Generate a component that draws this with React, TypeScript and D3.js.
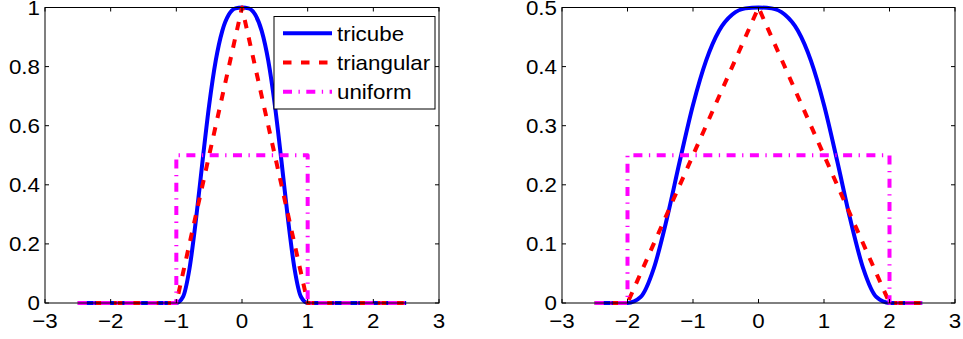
import React from "react";
import * as d3 from "d3";

// ---- data ----
const xTicks = [-3, -2, -1, 0, 1, 2, 3];
const leftYTicks = [0, 0.2, 0.4, 0.6, 0.8, 1];
const rightYTicks = [0, 0.1, 0.2, 0.3, 0.4, 0.5];
const seriesNames = ["tricube", "triangular", "uniform"];

// left panel (bandwidth 1)
const leftTricubeX = [-2.5, -1, -0.9, -0.8, -0.7, -0.6, -0.5, -0.4, -0.3, -0.2, -0.1, 0, 0.1, 0.2, 0.3, 0.4, 0.5, 0.6, 0.7, 0.8, 0.9, 1, 2.5];
const leftTricubeY = [0, 0, 0.02, 0.116, 0.284, 0.482, 0.67, 0.82, 0.921, 0.976, 0.997, 1, 0.997, 0.976, 0.921, 0.82, 0.67, 0.482, 0.284, 0.116, 0.02, 0, 0];
const leftTriX = [-2.5, -1, 0, 1, 2.5];
const leftTriY = [0, 0, 1, 0, 0];
const leftUniX = [-2.5, -1, -1, 1, 1, 2.5];
const leftUniY = [0, 0, 0.5, 0.5, 0, 0];

// right panel (bandwidth 2)
const rightTricubeX = [-2.5, -2, -1.8, -1.6, -1.4, -1.2, -1, -0.8, -0.6, -0.4, -0.2, 0, 0.2, 0.4, 0.6, 0.8, 1, 1.2, 1.4, 1.6, 1.8, 2, 2.5];
const rightTricubeY = [0, 0, 0.01, 0.058, 0.142, 0.241, 0.335, 0.41, 0.461, 0.488, 0.4985, 0.5, 0.4985, 0.488, 0.461, 0.41, 0.335, 0.241, 0.142, 0.058, 0.01, 0, 0];
const rightTriX = [-2.5, -2, 0, 2, 2.5];
const rightTriY = [0, 0, 0.5, 0, 0];
const rightUniX = [-2.5, -2, -2, 2, 2, 2.5];
const rightUniY = [0, 0, 0.25, 0.25, 0, 0];

const FONT = "'Liberation Sans', Arial, sans-serif";
const FS = 20.5;
const SX = 1.09;
const styles = [
  { stroke: "#0000ff", dash: undefined as string | undefined },
  { stroke: "#ff0000", dash: "8.5 9.5" },
  { stroke: "#ff00ff", dash: "9 6.5 1.3 6.5" },
];

type Series = { x: number[]; y: number[]; smooth: boolean };

function T(props: { x: number; y: number; anchor?: string; dy?: string; children: React.ReactNode }) {
  return (
    <text transform={`translate(${props.x},${props.y}) scale(${SX},1)`} dy={props.dy}
      textAnchor={props.anchor || "start"} fontFamily={FONT} fontSize={FS} fill="#000">
      {props.children}
    </text>
  );
}

function Panel(props: {
  x0: number; x1: number; y0: number; y1: number;
  yMax: number; yTicks: number[]; series: Series[]; legend?: boolean; yFmt: (v: number) => string;
}) {
  const { x0, x1, y0, y1, yMax, yTicks, series, legend, yFmt } = props;
  const xs = d3.scaleLinear().domain([-3, 3]).range([x0, x1]);
  const ys = d3.scaleLinear().domain([0, yMax]).range([y1, y0]);
  const tl = 4;
  const fmtX = (v: number) => (v < 0 ? "\u2212" + Math.abs(v) : String(v));
  return (
    <g>
      {series.map((s, i) => {
        const pts = s.x.map((xv, k) => [xv, s.y[k]] as [number, number]);
        const line = d3.line<[number, number]>()
          .x((d) => xs(d[0]))
          .y((d) => ys(d[1]))
          .curve(s.smooth ? d3.curveMonotoneX : d3.curveLinear);
        return (
          <path key={i} d={line(pts) || ""} fill="none" stroke={styles[i].stroke}
            strokeWidth={4} strokeDasharray={styles[i].dash} strokeLinejoin="round" />
        );
      })}
      <rect x={x0} y={y0} width={x1 - x0} height={y1 - y0} fill="none" stroke="#000" strokeWidth={1} />
      {xTicks.map((t) => (
        <g key={"x" + t}>
          <line x1={xs(t)} x2={xs(t)} y1={y1} y2={y1 - tl} stroke="#000" />
          <line x1={xs(t)} x2={xs(t)} y1={y0} y2={y0 + tl} stroke="#000" />
          <T x={xs(t)} y={y1 + 25} anchor="middle">{fmtX(t)}</T>
        </g>
      ))}
      {yTicks.map((t) => (
        <g key={"y" + t}>
          <line x1={x0} x2={x0 + tl} y1={ys(t)} y2={ys(t)} stroke="#000" />
          <line x1={x1} x2={x1 - tl} y1={ys(t)} y2={ys(t)} stroke="#000" />
          <T x={x0 - 5} y={ys(t)} dy="0.36em" anchor="end">{yFmt(t)}</T>
        </g>
      ))}
      {legend && (
        <g>
          <rect x={274} y={16.5} width={161} height={92.5} fill="#fff" stroke="#000" strokeWidth={1} />
          {seriesNames.map((n, i) => {
            const ly = 33.3 + i * 29.2;
            return (
              <g key={n}>
                <line x1={283} x2={332} y1={ly} y2={ly} stroke={styles[i].stroke} strokeWidth={4} strokeDasharray={styles[i].dash} />
                <T x={337} y={ly} dy="0.36em">{n}</T>
              </g>
            );
          })}
        </g>
      )}
    </g>
  );
}

export default function App() {
  const fmtL = (v: number) => (v === 0 || v === 1 ? String(v) : v.toFixed(1));
  const fmtR = (v: number) => (v === 0 ? "0" : v.toFixed(1));
  return (
    <svg width={963} height={339} style={{ position: "absolute", left: 0, top: 0, background: "#fff" }}>
      <rect width={963} height={339} fill="#fff" />
      <Panel x0={45} x1={439} y0={7.5} y1={303} yMax={1} yTicks={leftYTicks} yFmt={fmtL} legend
        series={[
          { x: leftTricubeX, y: leftTricubeY, smooth: true },
          { x: leftTriX, y: leftTriY, smooth: false },
          { x: leftUniX, y: leftUniY, smooth: false },
        ]} />
      <Panel x0={562} x1={955} y0={7.5} y1={303} yMax={0.5} yTicks={rightYTicks} yFmt={fmtR}
        series={[
          { x: rightTricubeX, y: rightTricubeY, smooth: true },
          { x: rightTriX, y: rightTriY, smooth: false },
          { x: rightUniX, y: rightUniY, smooth: false },
        ]} />
    </svg>
  );
}
